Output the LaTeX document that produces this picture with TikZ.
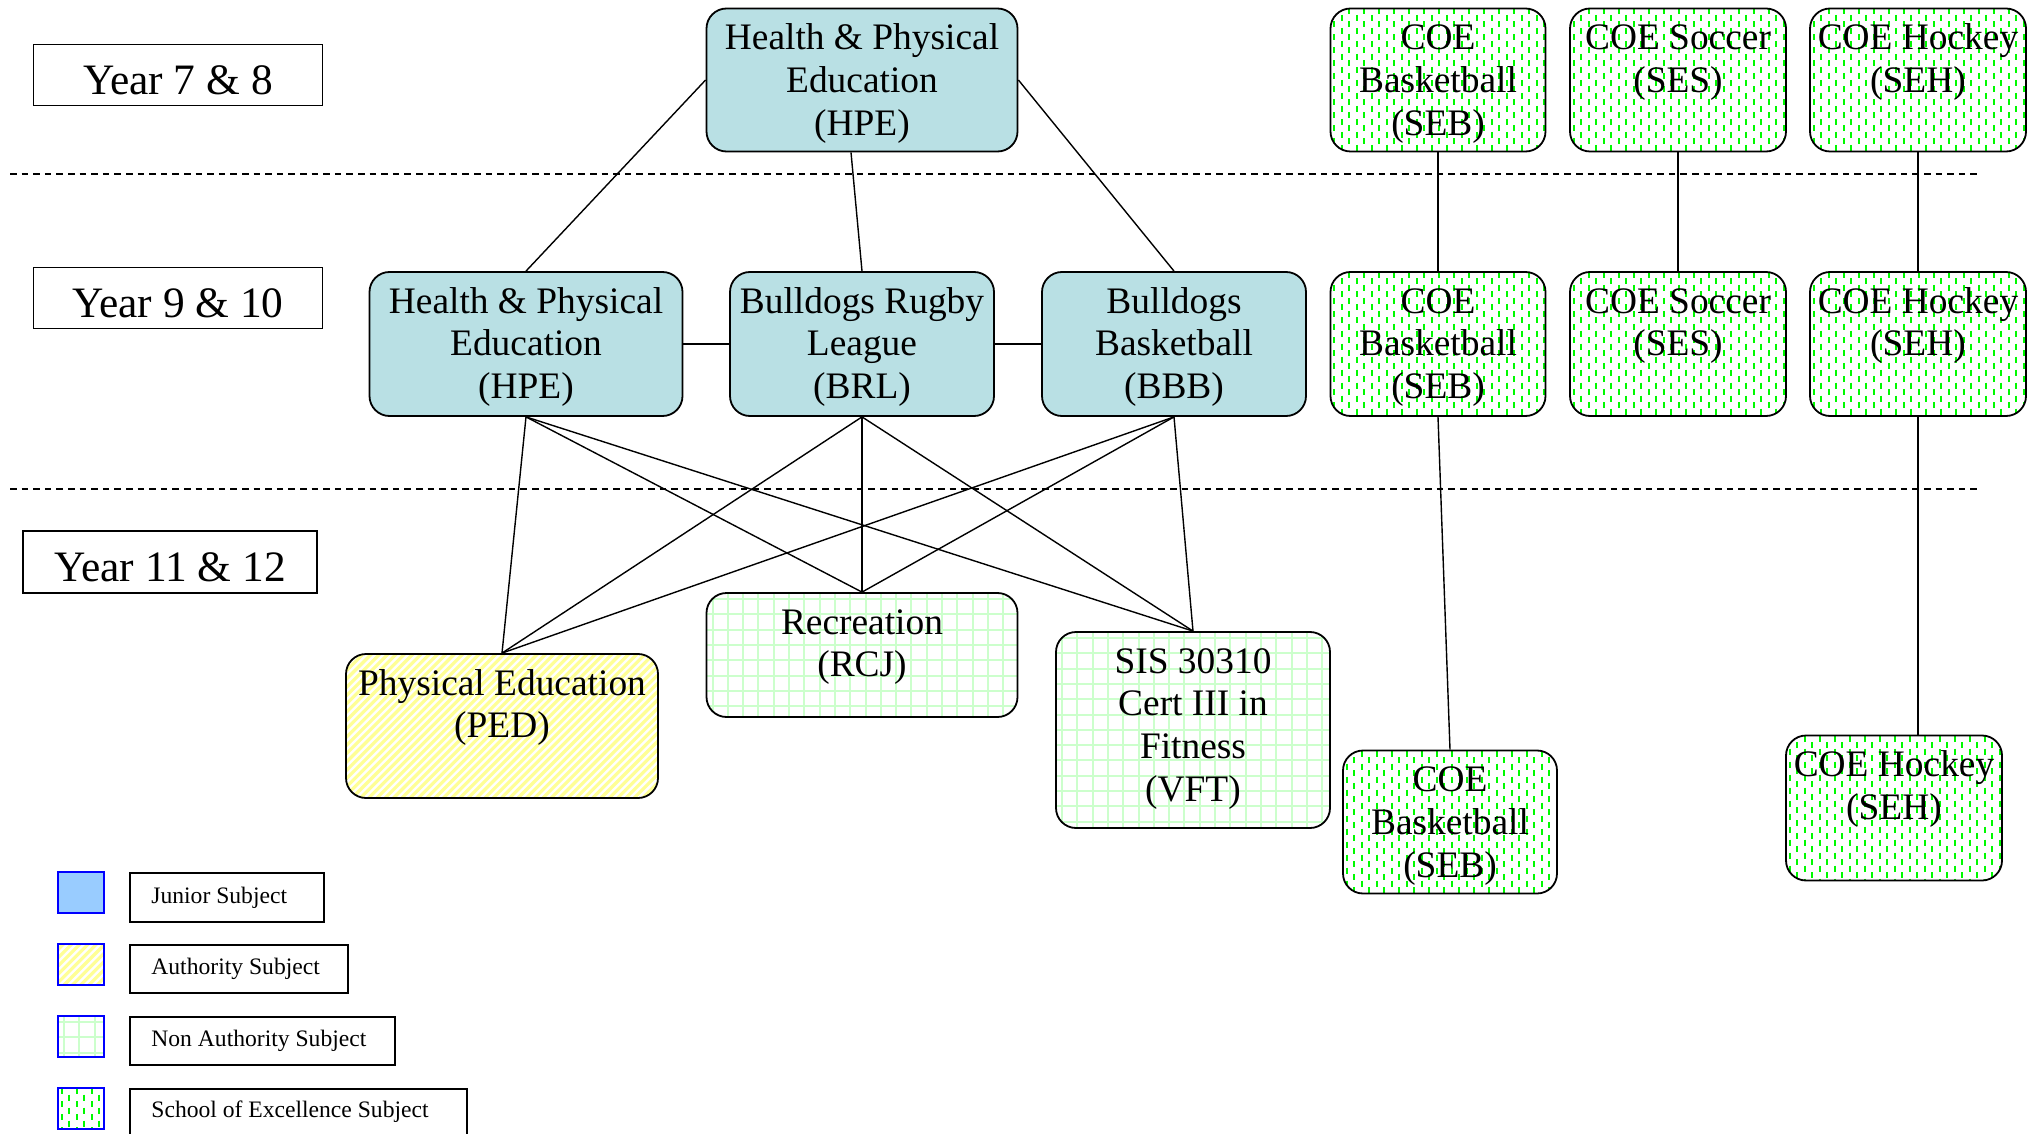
\documentclass[tikz,border=0pt]{standalone}
\usepackage{fontspec}
\setmainfont{Liberation Serif}
\usetikzlibrary{calc}
\definecolor{junior}{RGB}{185,224,228}
\definecolor{juniorlg}{RGB}{153,204,255}
\definecolor{authY}{RGB}{255,255,150}
\definecolor{gridG}{RGB}{204,255,204}
\definecolor{dashG}{RGB}{0,250,0}
\tikzset{
  subj/.style={draw=black, line width=0.9pt, rounded corners=10pt, inner sep=0pt},
  junf/.style={fill=junior},
  authf/.style={fill=white, path picture={
      \foreach \k in {0,...,60}{\draw[authY,line width=1.6pt] ([xshift=\k*4.15pt-80pt]path picture bounding box.south west) -- ++(110pt,110pt);}}},
  nonf/.style={fill=white, path picture={
      \foreach \k in {0,...,22}{
        \draw[gridG,line width=1pt] ([xshift=\k*7.65pt+3pt]path picture bounding box.north west) -- ++(0,-120pt);
        \draw[gridG,line width=1pt] ([yshift=-\k*7.65pt-3pt]path picture bounding box.north west) -- ++(180pt,0);}}},
  soef/.style={fill=white, path picture={
      \foreach \k in {0,...,30}{\pgfmathsetmacro\ph{mod(\k,2)*3.25}
        \draw[dashG,line width=0.95pt,dash pattern=on 3pt off 3.5pt,dash phase=\ph pt] ([xshift=\k*3.75pt+1.8pt]path picture bounding box.north west) -- ++(0,-120pt);}}},
  stxt/.style={font=\fontsize{18.7pt}{21.3pt}\selectfont, align=center, inner sep=0pt, anchor=north},
  conn/.style={line width=0.7pt},
  sep/.style={line width=0.65pt, dash pattern=on 3.3pt off 2.5pt},
  yearbox/.style={draw, line width=0.9pt, inner sep=0pt, font=\fontsize{21.7pt}{26pt}\selectfont, text height=19.5pt, text depth=0pt},
  swatch/.style={draw=blue, line width=1pt, inner sep=0pt, minimum width=23pt, minimum height=20.5pt},
  lgbox/.style={draw, line width=0.9pt, inner sep=0pt, anchor=north west},
  lgtxt/.style={font=\fontsize{11.8pt}{14pt}\selectfont, inner sep=0pt, anchor=west},
}
\newcommand\subjnode[7]{%
  \node[subj,#6,minimum width=#4*0.5pt,minimum height=#5*0.5pt] (#1) at (#2,#3) {};
  \node[stxt] (#1t) at ([yshift=-6pt]#1.north) {\strut #7};
}
\begin{document}
\begin{tikzpicture}[x=0.5pt,y=-0.5pt]
\useasboundingbox (0,0) rectangle (2040,1134);
\clip (0,0) rectangle (2040,1134);

% separators
\draw[sep] (10,174) -- (1978,174);
\draw[sep] (10,489) -- (1978,489);

% year labels
\node[yearbox, minimum width=144.5pt, minimum height=30.5pt] (y78) at (178,75) {Year 7 \& 8};
\node[yearbox, minimum width=144.5pt, minimum height=30.5pt] (y910) at (178,298) {Year 9 \& 10};
\node[yearbox, minimum width=147pt, minimum height=31pt] (y1112) at (170,562) {Year 11 \& 12};

% junior subjects
\subjnode{hpeA}{862}{80}{311}{143}{junf}{Health \& Physical\\Education\\(HPE)}
\subjnode{hpeB}{526}{344}{313}{144}{junf}{Health \& Physical\\Education\\(HPE)}
\subjnode{brl}{862}{344}{264}{144}{junf}{Bulldogs Rugby\\League\\(BRL)}
\subjnode{bbb}{1174}{344}{264}{144}{junf}{Bulldogs\\Basketball\\(BBB)}

% senior subjects
\subjnode{ped}{502}{726}{312}{144}{authf}{Physical Education\\(PED)}
\subjnode{rcj}{862}{655}{311}{124}{nonf}{Recreation\\(RCJ)}
\subjnode{vft}{1193}{730}{274}{196}{nonf}{SIS 30310\\Cert III in\\Fitness\\(VFT)}

% school of excellence
\subjnode{sebA}{1438}{80}{215}{143}{soef}{COE\\Basketball\\(SEB)}
\subjnode{sesA}{1678}{80}{216}{143}{soef}{COE Soccer\\(SES)}
\subjnode{sehA}{1918}{80}{216}{143}{soef}{COE Hockey\\(SEH)}
\subjnode{sebB}{1438}{344}{215}{144}{soef}{COE\\Basketball\\(SEB)}
\subjnode{sesB}{1678}{344}{216}{144}{soef}{COE Soccer\\(SES)}
\subjnode{sehB}{1918}{344}{216}{144}{soef}{COE Hockey\\(SEH)}
\subjnode{sebC}{1450}{822}{214}{143}{soef}{COE\\Basketball\\(SEB)}
\subjnode{sehC}{1894}{808}{216}{145}{soef}{COE Hockey\\(SEH)}

% connectors
\draw[conn] (hpeA.west) -- (hpeB.north);
\draw[conn] ([xshift=-5.5pt]hpeA.south) -- (brl.north);
\draw[conn] (hpeA.east) -- (bbb.north);
\draw[conn] (hpeB.east) -- (brl.west);
\draw[conn] (brl.east) -- (bbb.west);
\foreach \s in {hpeB,brl,bbb}{
  \foreach \t in {ped,rcj,vft}{
    \draw[conn] (\s.south) -- (\t.north);
  }
}
\draw[conn] (sebA.south) -- (sebB.north);
\draw[conn] (sesA.south) -- (sesB.north);
\draw[conn] (sehA.south) -- (sehB.north);
\draw[conn] (sebB.south) -- (sebC.north);
\draw[conn] (sehB.south) -- (sehB.south |- sehC.north);

% legend
\node[swatch, fill=juniorlg] (lg1) at (81,892) {};
\node[swatch, authf] (lg2) at (81,964.5) {};
\node[swatch, nonf] (lg3) at (81,1036.5) {};
\node[swatch, soef] (lg4) at (81,1108.5) {};
\node[lgbox, minimum width=97pt, minimum height=24.5pt] (lb1) at (129,872) {};
\node[lgbox, minimum width=109pt, minimum height=24pt] (lb2) at (129,944) {};
\node[lgbox, minimum width=132.5pt, minimum height=24pt] (lb3) at (129,1016) {};
\node[lgbox, minimum width=168.5pt, minimum height=30pt] (lb4) at (129,1088) {};
\node[lgtxt] (lt1) at ([xshift=11pt]lb1.west) {Junior Subject};
\node[lgtxt] (lt2) at ([xshift=11pt]lb2.west) {Authority Subject};
\node[lgtxt] (lt3) at ([xshift=11pt]lb3.west) {Non Authority Subject};
\node[lgtxt] (lt4) at (151,1112) {School of Excellence Subject};
\end{tikzpicture}
\end{document}
